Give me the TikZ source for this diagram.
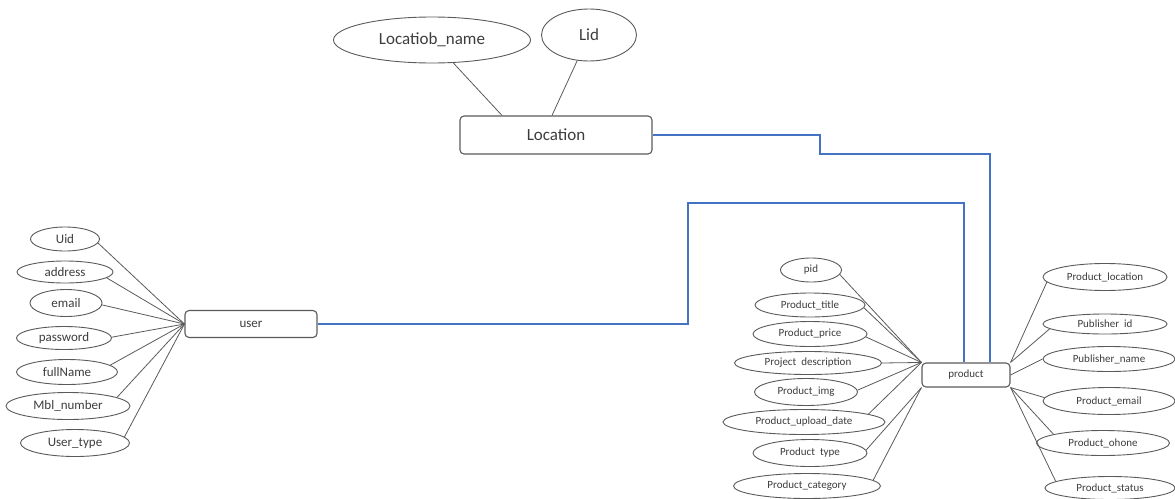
\documentclass[tikz,border=0pt]{standalone}
\usepackage{fontspec}
\setmainfont{Carlito}
\usetikzlibrary{shapes.geometric}
\definecolor{linegray}{HTML}{5A5A5A}
\definecolor{txtgray}{HTML}{3C3C3C}
\definecolor{relblue}{HTML}{4472C4}
\tikzset{
  entity/.style={draw=linegray, line width=1.1pt, rounded corners=4pt, text=txtgray},
  attr/.style={ellipse, draw=linegray, line width=0.9pt, inner sep=0pt, text=txtgray},
  conn/.style={linegray, line width=0.8pt},
  rel/.style={relblue, line width=1.1pt}
}
\begin{document}
\begin{tikzpicture}[x=1pt, y=-1pt]
\useasboundingbox (0,0) rectangle (1175,498);

% entities
\node[entity, minimum width=192pt, minimum height=38pt, font=\fontsize{17}{20}\selectfont] (loc) at (556,135) {Location};
\node[entity, minimum width=132pt, minimum height=27pt, font=\fontsize{13}{15}\selectfont] (user) at (251,324) {user};
\node[entity, minimum width=88pt, minimum height=24pt, font=\fontsize{11}{13}\selectfont] (product) at (966,375) {product};

% Location attributes
\node[attr, minimum width=197pt, minimum height=46pt, font=\fontsize{17}{20}\selectfont] (lname) at (432,40) {Locatiob\_name};
\node[attr, minimum width=95pt, minimum height=52pt, font=\fontsize{17}{20}\selectfont] (lid) at (589,35) {Lid};
\draw[conn] (lname) -- ([xshift=-54pt]loc.north);
\draw[conn] (lid) -- ([xshift=-4pt]loc.north);

% user attributes
\foreach \n/\t/\x/\y/\w/\h/\e in {
  uid/Uid/65/239/69/24/-7,
  uaddr/address/65/272/96/22/-8,
  umail/email/66/303/72/27/-3,
  upass/password/64/338/95/23/1,
  ufull/fullName/67/372/101/25/9,
  umbl/Mbl\_number/68/406/124/27/10,
  utype/User\_type/75/443/109/27/7}
{
  \node[attr, minimum width=\w pt, minimum height=\h pt, font=\fontsize{13}{15}\selectfont] (\n) at (\x,\y) {\t};
  \draw[conn] (\n.\e) -- (user.west);
}

% product attributes, left side
\foreach \n/\t/\x/\y/\w/\h/\e/\a in {
  pid/pid/811/270/61/24/-9/north west,
  ptitle/Product\_title/810/305/110/24/-3/north west,
  pprice/Product\_price/810/334/114/25/-3/north west,
  pdesc/Project~~description/808/363/147/23/0/north west,
  pimg/Product\_img/806/392/103/27/2/north west,
  pdate/Product\_upload\_date/804/422/162/25/7/north west,
  ptype/Product~~type/810/453/114/27/3/south west,
  pcat/Product\_category/807/486/147/25/5/south west}
{
  \node[attr, minimum width=\w pt, minimum height=\h pt, font=\fontsize{11}{13}\selectfont] (\n) at (\x,\y) {\t};
  \draw[conn] (\n.\e) -- (product.\a);
}

% product attributes, right side
\foreach \n/\t/\x/\y/\w/\h/\e/\a in {
  ploc/Product\_location/1105/277/124/27/185/north east,
  pubid/Publisher~~id/1105/324/124/20/185/north east,
  pubname/Publisher\_name/1109/359/132/25/180/east,
  pmail/Product\_email/1109/401/132/27/177/south east,
  pphone/Product\_ohone/1103/443/133/25/170/south east,
  pstat/Product\_status/1110/488/130/23/173/south east}
{
  \node[attr, minimum width=\w pt, minimum height=\h pt, font=\fontsize{11}{13}\selectfont] (\n) at (\x,\y) {\t};
  \draw[conn] (\n.\e) -- (product.\a);
}

% relations
\coordinate (bendloc) at (820,154);
\coordinate (benduser) at (688,203);
\draw[rel] (loc.east) -| (bendloc) -| ([xshift=24pt]product.north);
\draw[rel] (user.east) -| (benduser) -| ([xshift=-2pt]product.north);
\end{tikzpicture}
\end{document}
